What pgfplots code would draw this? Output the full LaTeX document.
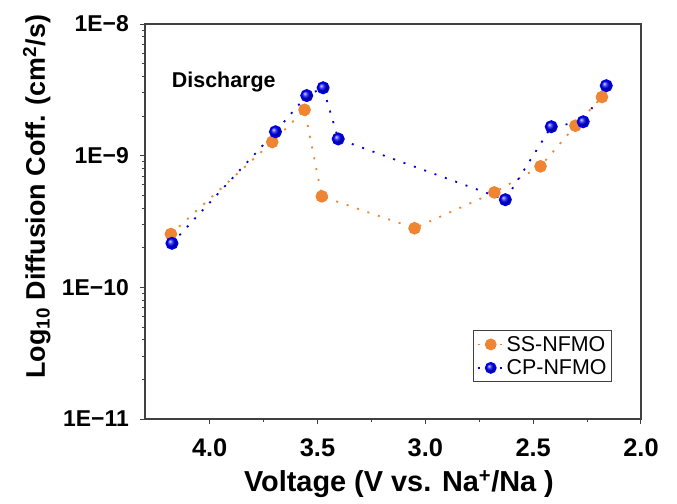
\documentclass[border=0pt]{standalone}
\usepackage{fontspec}
\setmainfont{Liberation Sans}
\usepackage{pgfplots}
\pgfplotsset{compat=1.18}
\definecolor{ssorange}{RGB}{239,133,51}
\definecolor{axgray}{RGB}{64,64,64}
\begin{document}
\begin{tikzpicture}
\path[use as bounding box] (0,0) rectangle (677bp,504bp);
\begin{axis}[
  at={(145bp,85bp)}, anchor=south west,
  scale only axis, width=496bp, height=395bp,
  x dir=reverse,
  xmin=2.0, xmax=4.3,
  ymode=log, ymin=1e-11, ymax=1e-8,
  xtick={2.0,2.5,3.0,3.5,4.0},
  xticklabels={2.0,2.5,3.0,3.5,4.0},
  minor x tick num=1,
  ytick={1e-11,1e-10,1e-9,1e-8},
  yticklabels={1E−11,1E−10,1E−9,1E−8},
  tick align=outside,
  xtick pos=bottom, ytick pos=left,
  major tick length=5bp, minor tick length=3bp,
  axis line style={axgray, line width=1.2bp},
  every tick/.style={axgray, line width=1bp},
  every minor tick/.style={axgray, line width=0.8bp},
  x tick label style={font=\fontsize{25.5}{28}\selectfont\bfseries, anchor=base, inner sep=0pt, yshift=-32.7bp},
  y tick label style={font=\fontsize{23}{26}\selectfont\bfseries, anchor=east, inner sep=0pt, xshift=-11bp},
  xlabel={Voltage (V vs. Na\textsuperscript{+}/Na )},
  ylabel={Log\textsubscript{10} Diffusion Coff. (cm\textsuperscript{2}/s)},
  every axis x label/.style={at={(axis description cs:0.512,-0.1844)}, anchor=base, font=\fontsize{29}{32}\selectfont\bfseries},
  every axis y label/.style={at={(axis description cs:-0.2016,0.563)}, anchor=base, rotate=90, font=\fontsize{27}{30}\selectfont\bfseries},
  legend style={at={(rel axis cs:0.9415,0.0937)}, anchor=south east,
    draw=axgray, line width=0.8bp, font=\fontsize{21.5}{24}\selectfont,
    inner xsep=3bp, inner ysep=3.5bp, row sep=3bp},
  legend cell align=left,
  legend image code/.code={\draw[mark repeat=2,mark phase=2, mark size=5bp] plot coordinates {(0bp,0bp)(13bp,0bp)(26bp,0bp)};},
]
\addplot[ssorange, line width=1.8bp, dash pattern=on 2bp off 9bp,
  mark=*, mark size=5.4bp, mark options={solid, fill=ssorange, draw=ssorange}]
  coordinates {
  (4.18,2.54e-10) (3.71,1.27e-9) (3.56,2.23e-9) (3.48,4.91e-10) (3.05,2.81e-10)
  (2.68,5.26e-10) (2.466,8.3e-10) (2.304,1.69e-9) (2.181,2.79e-9)};
\addlegendentry{SS-NFMO}
\addplot[blue!85!black, line width=1.8bp, dash pattern=on 2bp off 9bp,
  mark=ball, mark size=5.6bp, mark options={solid, ball color=blue}]
  coordinates {
  (4.175,2.16e-10) (3.695,1.52e-9) (3.55,2.86e-9) (3.474,3.28e-9) (3.404,1.34e-9)
  (2.629,4.63e-10) (2.416,1.66e-9) (2.268,1.81e-9) (2.161,3.4e-9)};
\addlegendentry{CP-NFMO}
\node[anchor=base west, inner sep=0pt, font=\fontsize{21.5}{26}\selectfont\bfseries] at (rel axis cs:0.054,0.839) {Discharge};
\end{axis}
\end{tikzpicture}
\end{document}
